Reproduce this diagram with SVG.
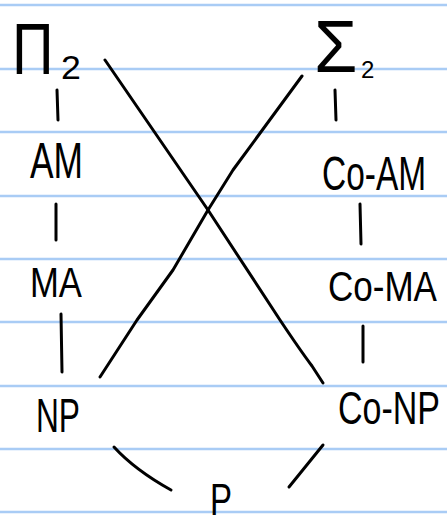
<svg xmlns="http://www.w3.org/2000/svg" width="447" height="525" viewBox="0 0 447 525">
<style>
.rule{stroke:#a9ccf5;stroke-width:2.5}
.ink{fill:none;stroke:#000;stroke-width:3;stroke-linecap:round;stroke-linejoin:round}
.lbl{font-family:"Liberation Sans","DejaVu Sans",sans-serif;fill:#000}
</style>
<rect width="447" height="525" fill="#fff"/>
<g id="paper">
<line class="rule" x1="0" y1="5" x2="447" y2="5"/>
<line class="rule" x1="0" y1="69" x2="447" y2="69"/>
<line class="rule" x1="0" y1="132" x2="447" y2="132"/>
<line class="rule" x1="0" y1="196" x2="447" y2="196"/>
<line class="rule" x1="0" y1="259" x2="447" y2="259"/>
<line class="rule" x1="0" y1="322" x2="447" y2="322"/>
<line class="rule" x1="0" y1="386" x2="447" y2="386"/>
<line class="rule" x1="0" y1="449" x2="447" y2="449"/>
<line class="rule" x1="0" y1="512" x2="447" y2="512"/>
</g>
<g id="connectors">
<line class="ink" x1="57" y1="90" x2="58" y2="120"/>
<line class="ink" x1="56" y1="204" x2="56" y2="240"/>
<line class="ink" x1="61" y1="314" x2="62" y2="372"/>
<line class="ink" x1="335" y1="90" x2="336" y2="120"/>
<line class="ink" x1="360" y1="204" x2="361" y2="244"/>
<line class="ink" x1="363" y1="326" x2="363" y2="362"/>
<path class="ink" d="M105,60 L208,210 L280,320 Q300,350 312,366 L323,383"/>
<path class="ink" d="M302,76 L233,170 L208,210 L173,270 L137,320 L100,377"/>
<path class="ink" d="M114,447 Q135,470 171,490"/>
<line class="ink" x1="323" y1="445" x2="289" y2="487"/>
</g>
<g id="Pi2"><text class="lbl" transform="translate(12,74) scale(0.8,1)" font-size="72">Π</text><text class="lbl" transform="translate(61,79) scale(1.05,1)" font-size="34">2</text></g>
<g id="Sigma2"><text class="lbl" transform="translate(314,72) scale(0.95,1)" font-size="74">Σ</text><text class="lbl" transform="translate(361,78)" font-size="24">2</text></g>
<g id="AM"><text class="lbl" transform="translate(30,178) scale(0.707,1)" font-size="50">AM</text></g>
<g id="MA"><text class="lbl" transform="translate(30,297) scale(0.825,1)" font-size="42">MA</text></g>
<g id="NP"><text class="lbl" transform="translate(36,432) scale(0.66,1)" font-size="48">NP</text></g>
<g id="CoAM"><text class="lbl" transform="translate(322,190) scale(0.697,1)" font-size="48">Co-AM</text></g>
<g id="CoMA"><text class="lbl" transform="translate(328,301) scale(0.834,1)" font-size="42">Co-MA</text></g>
<g id="CoNP"><text class="lbl" transform="translate(338,424) scale(0.739,1)" font-size="46">Co-NP</text></g>
<g id="P"><text class="lbl" transform="translate(210,515) scale(0.75,1)" font-size="44">P</text></g>
</svg>
